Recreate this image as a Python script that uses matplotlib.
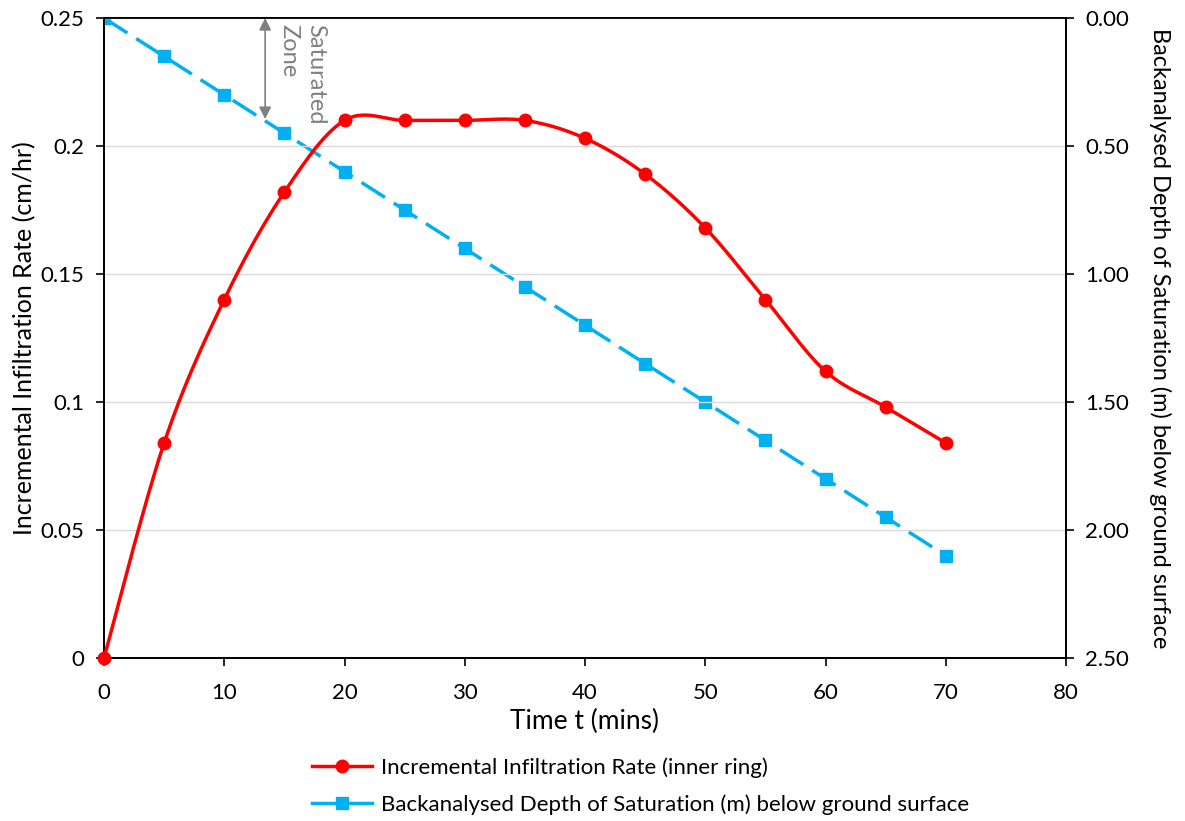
import numpy as np
import matplotlib
matplotlib.use("Agg")
import matplotlib.pyplot as plt
from matplotlib.ticker import FixedLocator
from matplotlib.lines import Line2D

plt.rcParams['font.family'] = ['Lato', 'DejaVu Sans']

time = [0, 5, 10, 15, 20, 25, 30, 35, 40, 45, 50, 55, 60, 65, 70]
rate = [0, 0.084, 0.140, 0.182, 0.210, 0.210, 0.210, 0.210, 0.203, 0.189, 0.168, 0.140, 0.112, 0.098, 0.084]
depth = [0, 0.15, 0.30, 0.45, 0.60, 0.75, 0.90, 1.05, 1.20, 1.35, 1.50, 1.65, 1.80, 1.95, 2.10]

left_ticks = [0, 0.05, 0.1, 0.15, 0.2, 0.25]
left_labels = ['0', '0.05', '0.1', '0.15', '0.2', '0.25']
right_ticks = [0, 0.5, 1.0, 1.5, 2.0, 2.5]
right_labels = ['0.00', '0.50', '1.00', '1.50', '2.00', '2.50']
x_ticks = [0, 10, 20, 30, 40, 50, 60, 70, 80]

RED = '#FF0000'
BLUE = '#00B0F0'


def smooth(xs, ys, n=30):
    # Excel-like Bezier smoothing (Catmull-Rom control points)
    xs = np.asarray(xs, float)
    ys = np.asarray(ys, float)
    sx, sy = 80.0, 0.25 * 962 / 640
    P = np.column_stack([xs / sx, ys / sy])
    out = []
    m = len(P)
    for i in range(m - 1):
        p0 = P[i - 1] if i > 0 else P[i]
        p1 = P[i]
        p2 = P[i + 1]
        p3 = P[i + 2] if i + 2 < m else P[i + 1]
        c1 = p1 + (p2 - p0) / 6
        c2 = p2 - (p3 - p1) / 6
        t = np.linspace(0, 1, n)[:, None]
        seg = ((1 - t) ** 3) * p1 + 3 * ((1 - t) ** 2) * t * c1 + 3 * (1 - t) * t ** 2 * c2 + t ** 3 * p2
        out.append(seg if i == 0 else seg[1:])
    Q = np.vstack(out)
    return Q[:, 0] * sx, Q[:, 1] * sy


fig = plt.figure(figsize=(11.85, 8.21), dpi=100)
ax = fig.add_axes([104 / 1185, 1 - 658 / 821, (1066 - 104) / 1185, (658 - 18) / 821])
ax2 = ax.twinx()

ax.set_xlim(0, 80)
ax.set_ylim(0, 0.25)
ax2.set_ylim(2.5, 0)

ax.yaxis.set_major_locator(FixedLocator(left_ticks))
ax.set_yticklabels(left_labels)
ax.set_xticks(x_ticks)
ax2.yaxis.set_major_locator(FixedLocator(right_ticks))
ax2.set_yticklabels(right_labels)

ax.grid(axis='y', color='#D9D9D9', linewidth=1)
ax.set_axisbelow(True)

for a in (ax, ax2):
    for s in a.spines.values():
        s.set_color('black')
        s.set_linewidth(1.3)
    a.tick_params(direction='out', length=6, width=1.2, labelsize=16, colors='black')
ax.tick_params(axis='x', pad=12)
ax.tick_params(axis='y', pad=8)
ax2.tick_params(axis='y', pad=8)

# blue series on right axis
ax2.plot(time, depth, color=BLUE, linewidth=2.5, dashes=(8, 3), marker='s',
         markersize=8.5, markerfacecolor=BLUE, markeredgecolor=BLUE, zorder=3)

# red series on left axis drawn on top
ax.set_zorder(ax2.get_zorder() + 1)
ax.patch.set_visible(False)
sx, sy = smooth(time, rate)
ax.plot(sx, sy, color=RED, linewidth=2.5, zorder=3, solid_capstyle='round')
ax.plot(time, rate, linestyle='none', marker='o', markersize=9,
        markerfacecolor=RED, markeredgecolor=RED, zorder=4, clip_on=False)

ax.set_xlabel('Time t (mins)', fontsize=19, labelpad=4)
ax.set_ylabel('Incremental Infiltration Rate (cm/hr)', fontsize=18, labelpad=3)
ax2.set_ylabel('Backanalysed Depth of Saturation (m) below ground surface', fontsize=17,
               rotation=270, labelpad=30)

# Saturated zone annotation
ax.annotate('', xy=(13.4, 0.25), xytext=(13.4, 0.2105),
            arrowprops=dict(arrowstyle='<|-|>', color='#808080', lw=1.2,
                            mutation_scale=18, shrinkA=0, shrinkB=0), zorder=5)
ax.text(14.5, 0.2475, 'Saturated\nZone', rotation=270, color='#808080', fontsize=17,
        ha='left', va='top', linespacing=1.35, multialignment='left', zorder=5)

# legend
h1 = Line2D([], [], color=RED, linewidth=2.5, marker='o', markersize=9)
h2 = Line2D([], [], color=BLUE, linewidth=2.5, marker='s', markersize=8.5)
fig.legend([h1, h2], ['Incremental Infiltration Rate (inner ring)',
                      'Backanalysed Depth of Saturation (m) below ground surface'],
           loc='center left', bbox_to_anchor=(292 / 1185, 1 - 786 / 821), frameon=False,
           fontsize=16, handlelength=2.7, labelspacing=0.75, handletextpad=0.4)

fig.savefig('out.png', dpi=100)
